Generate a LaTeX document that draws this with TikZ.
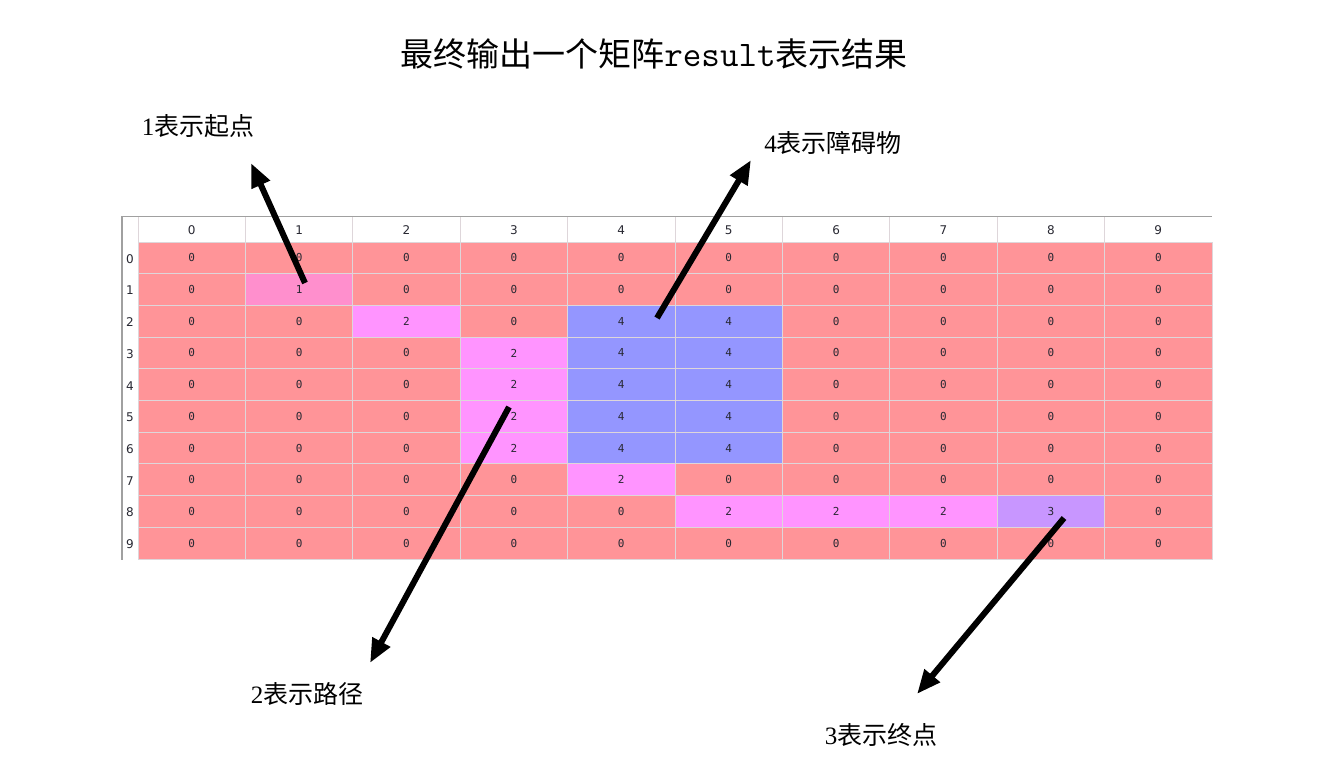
\documentclass[tikz,border=0pt]{standalone}
\usepackage{fontspec}
\setmainfont{Liberation Serif}
\newfontfamily\cjk{Noto Sans CJK SC}
\newfontfamily\cellfont{DejaVu Sans Mono}
\newfontfamily\uifont{DejaVu Sans}
\usetikzlibrary{arrows.meta}
\definecolor{c0}{RGB}{255,148,152}
\definecolor{c1}{RGB}{255,143,205}
\definecolor{c2}{RGB}{255,148,255}
\definecolor{c3}{RGB}{200,150,255}
\definecolor{c4}{RGB}{148,150,255}
\definecolor{gridc}{RGB}{222,214,218}
\definecolor{borderc}{RGB}{160,160,160}
\definecolor{txt}{RGB}{40,40,50}
\tikzset{
  cell/.style={draw=gridc, line width=1pt, minimum width=107.4pt, minimum height=31.7pt, inner sep=0pt, text=txt, font=\cellfont\fontsize{11}{13}\selectfont},
  hdr/.style={inner sep=0pt, text=txt, font=\uifont\fontsize{12}{14}\selectfont},
  lbl/.style={inner sep=0pt, font=\fontsize{25}{30}\selectfont},
  pointer/.style={line width=6pt, -{Triangle[length=24pt,width=19pt]}},
}
\begin{document}
\begin{tikzpicture}[x=1pt,y=-1pt]
\useasboundingbox[fill=white] (0,0) rectangle (1336,761);
% title
\node[inner sep=0pt] (title) at (654,54) {\fontsize{33}{40}\selectfont\cjk 最终输出一个矩阵{\ttfamily\fontsize{36}{40}\selectfont result}表示结果};
% header
\foreach \c in {0,...,9} {
  \node[hdr] (h\c) at ({138+107.4*\c+53.7},230) {\c};
}
\foreach \c in {1,...,9} {
  \draw[gridc, line width=1pt] ({138+107.4*\c},216) -- ({138+107.4*\c},242);
}
\draw[gridc, line width=1pt] (138,216) -- (138,242);
% cells
\foreach \r/\row in {
  0/{0,0,0,0,0,0,0,0,0,0},
  1/{0,1,0,0,0,0,0,0,0,0},
  2/{0,0,2,0,4,4,0,0,0,0},
  3/{0,0,0,2,4,4,0,0,0,0},
  4/{0,0,0,2,4,4,0,0,0,0},
  5/{0,0,0,2,4,4,0,0,0,0},
  6/{0,0,0,2,4,4,0,0,0,0},
  7/{0,0,0,0,2,0,0,0,0,0},
  8/{0,0,0,0,0,2,2,2,3,0},
  9/{0,0,0,0,0,0,0,0,0,0}} {
  \node[hdr] (r\r) at (130,{242+31.7*\r+16.85}) {\r};
  \foreach \v [count=\c from 0] in \row {
    \node[cell, fill=c\v] (c\r-\c) at ({138+107.4*\c+53.7},{242+31.7*\r+15.85}) {\v};
  }
}
% borders
\draw[borderc, line width=1pt] (122,216) -- (1212,216);
\draw[borderc, line width=1.5pt] (122,216) -- (122,560);
% label nodes
\node[lbl] (l1) at (198,126) {1\cjk 表示起点};
\node[lbl] (l4) at (833,143) {4\cjk 表示障碍物};
\node[lbl] (l2) at (307,694) {2\cjk 表示路径};
\node[lbl] (l3) at (881,735) {3\cjk 表示终点};
% arrow ends
\coordinate (s1) at (305,283);
\coordinate (e1) at (251,163);
\coordinate (s4) at (657,318);
\coordinate (e4) at (751,160);
\coordinate (s2) at (509,407);
\coordinate (e2) at (370,663);
\coordinate (s3) at (1064,518);
\coordinate (e3) at (917,694);
\draw[pointer] (s1) -- (e1);
\draw[pointer] (s4) -- (e4);
\draw[pointer] (s2) -- (e2);
\draw[pointer] (s3) -- (e3);
\end{tikzpicture}
\end{document}
